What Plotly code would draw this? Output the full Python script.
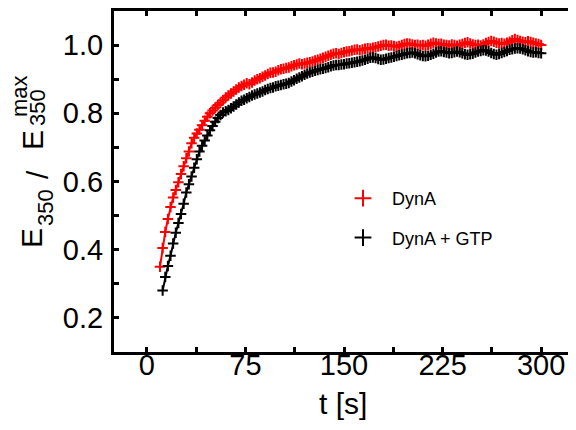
import plotly.graph_objects as go

# ---------------------------- data ----------------------------
t_dyna = [10, 12, 14, 16, 18, 20, 22, 24, 26, 28,
          30, 32, 34, 36, 38, 40, 42, 44, 46, 48,
          50, 52, 54, 56, 58, 60, 62, 64, 66, 68,
          70, 72, 74, 76, 78, 80, 82, 84, 86, 88,
          90, 92, 94, 96, 98, 100, 102, 104, 106, 108,
          110, 112, 114, 116, 118, 120, 122, 124, 126, 128,
          130, 132, 134, 136, 138, 140, 142, 144, 146, 148,
          150, 152, 154, 156, 158, 160, 162, 164, 166, 168,
          170, 172, 174, 176, 178, 180, 182, 184, 186, 188,
          190, 192, 194, 196, 198, 200, 202, 204, 206, 208,
          210, 212, 214, 216, 218, 220, 222, 224, 226, 228,
          230, 232, 234, 236, 238, 240, 242, 244, 246, 248,
          250, 252, 254, 256, 258, 260, 262, 264, 266, 268,
          270, 272, 274, 276, 278, 280, 282, 284, 286, 288,
          290, 292, 294, 296, 298, 300]

e_dyna = [0.350, 0.405, 0.452, 0.490, 0.525, 0.553, 0.575, 0.598, 0.622, 0.645,
          0.668, 0.688, 0.712, 0.728, 0.741, 0.752, 0.765, 0.778, 0.790, 0.800,
          0.808, 0.816, 0.824, 0.831, 0.838, 0.846, 0.852, 0.858, 0.864, 0.870,
          0.876, 0.880, 0.884, 0.888, 0.885, 0.890, 0.896, 0.900, 0.903, 0.907,
          0.911, 0.915, 0.919, 0.920, 0.922, 0.926, 0.929, 0.931, 0.933, 0.934,
          0.938, 0.941, 0.943, 0.946, 0.944, 0.946, 0.948, 0.950, 0.952, 0.955,
          0.957, 0.960, 0.963, 0.966, 0.969, 0.972, 0.975, 0.976, 0.974, 0.977,
          0.979, 0.981, 0.982, 0.984, 0.986, 0.987, 0.985, 0.987, 0.989, 0.991,
          0.990, 0.992, 0.994, 0.996, 0.998, 1.000, 1.001, 0.998, 0.999, 0.997,
          0.995, 0.997, 1.000, 1.003, 1.005, 1.004, 1.002, 1.000, 1.001, 0.999,
          1.000, 0.998, 1.001, 1.004, 1.007, 1.005, 1.003, 1.004, 1.001, 1.000,
          0.999, 1.002, 1.000, 0.998, 1.001, 1.003, 1.006, 1.008, 1.005, 1.002,
          1.000, 1.001, 0.999, 1.002, 1.006, 1.009, 1.012, 1.010, 1.007, 1.005,
          1.006, 1.004, 1.007, 1.010, 1.014, 1.018, 1.015, 1.012, 1.010, 1.008,
          1.011, 1.009, 1.007, 1.005, 1.003, 1.000]

t_gtp = [12, 14, 16, 18, 20, 22, 24, 26, 28,
         30, 32, 34, 36, 38, 40, 42, 44, 46, 48,
         50, 52, 54, 56, 58, 60, 62, 64, 66, 68,
         70, 72, 74, 76, 78, 80, 82, 84, 86, 88,
         90, 92, 94, 96, 98, 100, 102, 104, 106, 108,
         110, 112, 114, 116, 118, 120, 122, 124, 126, 128,
         130, 132, 134, 136, 138, 140, 142, 144, 146, 148,
         150, 152, 154, 156, 158, 160, 162, 164, 166, 168,
         170, 172, 174, 176, 178, 180, 182, 184, 186, 188,
         190, 192, 194, 196, 198, 200, 202, 204, 206, 208,
         210, 212, 214, 216, 218, 220, 222, 224, 226, 228,
         230, 232, 234, 236, 238, 240, 242, 244, 246, 248,
         250, 252, 254, 256, 258, 260, 262, 264, 266, 268,
         270, 272, 274, 276, 278, 280, 282, 284, 286, 288,
         290, 292, 294, 296, 298, 300]

e_gtp = [0.280, 0.320, 0.352, 0.382, 0.418, 0.450, 0.478, 0.505, 0.535,
         0.568, 0.592, 0.615, 0.640, 0.665, 0.688, 0.705, 0.720, 0.735, 0.750,
         0.763, 0.775, 0.786, 0.795, 0.802, 0.806, 0.810, 0.815, 0.820, 0.826,
         0.832, 0.837, 0.840, 0.844, 0.848, 0.852, 0.855, 0.858, 0.861, 0.864,
         0.868, 0.871, 0.874, 0.876, 0.879, 0.881, 0.883, 0.885, 0.887, 0.889,
         0.893, 0.897, 0.901, 0.905, 0.909, 0.913, 0.917, 0.920, 0.922, 0.925,
         0.927, 0.929, 0.931, 0.933, 0.935, 0.938, 0.940, 0.942, 0.942, 0.943,
         0.944, 0.946, 0.947, 0.948, 0.950, 0.951, 0.953, 0.955, 0.957, 0.960,
         0.963, 0.964, 0.962, 0.959, 0.957, 0.958, 0.960, 0.962, 0.964, 0.966,
         0.968, 0.970, 0.972, 0.974, 0.976, 0.977, 0.978, 0.976, 0.973, 0.970,
         0.968, 0.967, 0.969, 0.972, 0.975, 0.978, 0.981, 0.982, 0.980, 0.978,
         0.976, 0.977, 0.979, 0.981, 0.979, 0.976, 0.973, 0.972, 0.973, 0.975,
         0.978, 0.981, 0.983, 0.985, 0.984, 0.981, 0.977, 0.974, 0.972, 0.974,
         0.977, 0.980, 0.983, 0.986, 0.988, 0.990, 0.991, 0.990, 0.988, 0.985,
         0.982, 0.980, 0.978, 0.979, 0.977, 0.976]

series = [("DynA", t_dyna, e_dyna, "#ff0000"),
          ("DynA + GTP", t_gtp, e_gtp, "#000000")]

x_ticks = [0, 75, 150, 225, 300]
y_ticks = [0.2, 0.4, 0.6, 0.8, 1.0]

FONT = "Liberation Sans, Arial, sans-serif"

# the page body has an 8px margin, so the figure is laid out 8px smaller
OFF = 8
W, H = 576 - OFF, 430 - OFF
ML, MR, MT, MB = 114 - OFF, 2, 11 - OFF, 78


def px(xp, yp):
    # position on the page (pixels) -> paper coordinates
    xp, yp = xp - OFF, yp - OFF
    return (xp - ML) / (W - ML - MR), (H - MB - yp) / (H - MT - MB)


# ---------------------------- figure ----------------------------
fig = go.Figure()

for name, t, e, color in series:
    fig.add_trace(go.Scatter(x=t, y=e, mode="lines", showlegend=False,
                             line=dict(color=color, width=2), hoverinfo="skip"))
    fig.add_trace(go.Scatter(x=t, y=e, mode="markers", name=name, legendgroup=name,
                             marker=dict(symbol="cross-thin", size=7.5, color=color,
                                         line=dict(color=color, width=2))))

axis_common = dict(showline=True, linewidth=3, linecolor="black", mirror="ticks",
                   ticks="inside", ticklen=5, tickwidth=2.5, tickcolor="black",
                   showgrid=False, zeroline=False, automargin=False,
                   tickfont=dict(family=FONT, size=29, color="black"))

fig.update_xaxes(range=[-25, 325], tickvals=x_ticks, ticklabelstandoff=-15,
                 minor=dict(ticks="inside", dtick=37.5, tick0=0, ticklen=5, tickwidth=2.5,
                            tickcolor="black"),
                 **axis_common)
fig.update_yaxes(range=[0.1, 1.1], tickvals=y_ticks, tickformat=".1f", ticklabelstandoff=2,
                 minor=dict(ticks="inside", dtick=0.1, tick0=0, ticklen=5, tickwidth=2.5,
                            tickcolor="black"),
                 **axis_common)

# x title
x0, y0 = px(343, 403)
fig.add_annotation(text="t [s]", xref="paper", yref="paper", x=x0, y=y0,
                   xanchor="center", yanchor="middle", showarrow=False,
                   font=dict(family=FONT, size=30, color="black"))

# y title, built piece by piece (E350 / E350 with stacked max)
ytitle_parts = [("E", 30, 31, 238), ("350", 22, 46, 208), ("/", 30, 37, 175),
                ("E", 30, 32, 140), ("350", 22, 38, 108), ("max", 22, 19, 96)]
for txt, size, cx, cy in ytitle_parts:
    xp, yp = px(cx, cy)
    fig.add_annotation(text=txt, textangle=-90, xref="paper", yref="paper",
                       x=xp, y=yp, xanchor="center", yanchor="middle",
                       showarrow=False, font=dict(family=FONT, size=size, color="black"))

lx, ly = px(334, 180)
fig.update_layout(
    width=W, height=H,
    margin=dict(l=ML, r=MR, t=MT, b=MB),
    plot_bgcolor="white", paper_bgcolor="white",
    font=dict(family=FONT, color="black"),
    legend=dict(x=lx, y=ly, xanchor="left", yanchor="top", itemwidth=48,
                bgcolor="rgba(0,0,0,0)", itemsizing="constant",
                tracegroupgap=13, font=dict(family=FONT, size=18, color="black")),
)

fig.write_html("out.html")
